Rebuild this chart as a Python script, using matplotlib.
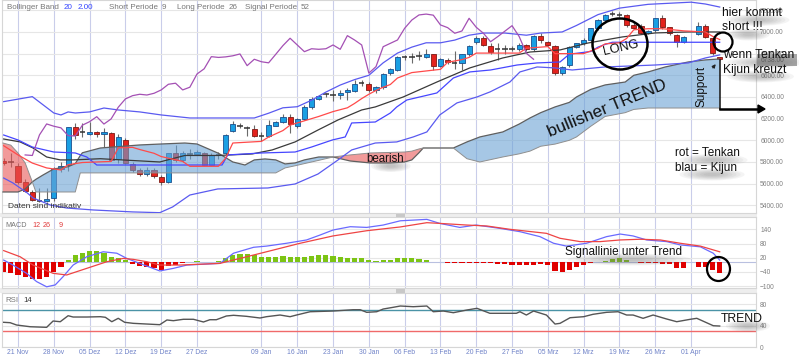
import numpy as np
import matplotlib
matplotlib.use("Agg")
import matplotlib.pyplot as plt
from matplotlib.patches import Ellipse, Rectangle, FancyArrow, FancyArrowPatch

plt.rcParams['font.family'] = ['Liberation Sans', 'DejaVu Sans']

# ---------------- data (trading-day index, prices) ----------------
candle_idx = list(range(-2, 94)) + [95, 96, 97, 98]
opens = [5810, 5795, 5766, 5618, 5526, 5450, 5440, 5465, 5735, 5775,
         6120, 6075, 6055, 6074, 6055, 6070, 5825, 6003, 5782, 5726,
         5689, 5726, 5665, 5618, 5880, 5815, 5880, 5875, 5880, 5772,
         5870, 5880, 6090, 6140, 6125, 6105, 6050, 6040, 6135, 6172,
         6212, 6135, 6197, 6305, 6382, 6420, 6420, 6420, 6450, 6458,
         6520, 6517, 6465, 6490, 6620, 6650, 6770, 6765, 6770, 6772,
         6794, 6689, 6740, 6725, 6711, 6794, 6905, 6942, 6874, 6840,
         6845, 6840, 6840, 6880, 6840, 6966, 6910, 6874, 6620, 6695,
         6864, 6895, 6926, 7034, 7110, 7160, 7165, 7157, 7065, 7058,
         6988, 7018, 7126, 7043, 6972, 6910, 6979, 7058, 6942, 6766]
highs = [5840, 5880, 5790, 5640, 5540, 5560, 5560, 5750, 5800, 6125,
         6160, 6163, 6170, 6090, 6110, 6080, 6060, 6020, 5800, 5740,
         5750, 5740, 5680, 5885, 5960, 5905, 5920, 5910, 5890, 5880,
         5890, 6060, 6180, 6160, 6130, 6140, 6080, 6190, 6180, 6240,
         6240, 6210, 6330, 6400, 6420, 6440, 6460, 6460, 6480, 6560,
         6560, 6540, 6500, 6620, 6670, 6780, 6790, 6810, 6820, 6840,
         6800, 6760, 6760, 6820, 6800, 6880, 6960, 6960, 6900, 6900,
         6880, 6870, 6900, 6890, 6970, 6990, 6920, 6880, 6690, 6870,
         6900, 6940, 7040, 7120, 7170, 7190, 7180, 7170, 7080, 7070,
         7020, 7130, 7160, 7050, 6980, 6965, 7090, 7070, 6950, 6770]
lows = [5770, 5750, 5600, 5520, 5440, 5430, 5430, 5440, 5710, 5720,
        6010, 6034, 6050, 6035, 5940, 5810, 5790, 5780, 5710, 5670,
        5670, 5650, 5590, 5610, 5800, 5800, 5830, 5860, 5760, 5760,
        5830, 5860, 6080, 6110, 6040, 6030, 5990, 6030, 6130, 6160,
        6070, 6110, 6190, 6290, 6370, 6400, 6360, 6380, 6370, 6450,
        6500, 6450, 6440, 6470, 6600, 6640, 6740, 6710, 6740, 6760,
        6650, 6680, 6700, 6660, 6650, 6780, 6890, 6870, 6800, 6740,
        6800, 6820, 6820, 6820, 6820, 6900, 6870, 6600, 6600, 6680,
        6850, 6880, 6920, 7020, 7100, 7150, 7140, 7050, 7030, 6980,
        6980, 7000, 7030, 6970, 6860, 6900, 6970, 6940, 6790, 6740]
closes = [5795, 5800, 5618, 5535, 5450, 5440, 5455, 5735, 5765, 6120,
          6045, 6080, 6074, 6055, 6075, 5818, 6028, 5788, 5726, 5689,
          5726, 5671, 5618, 5880, 5815, 5880, 5870, 5890, 5772, 5865,
          5860, 6050, 6151, 6130, 6115, 6043, 6040, 6140, 6172, 6218,
          6150, 6197, 6305, 6382, 6412, 6425, 6418, 6434, 6465, 6517,
          6527, 6465, 6490, 6612, 6660, 6772, 6765, 6770, 6780, 6797,
          6689, 6748, 6725, 6715, 6794, 6874, 6942, 6880, 6818, 6845,
          6840, 6845, 6880, 6840, 6966, 6926, 6880, 6620, 6680, 6864,
          6895, 6926, 7034, 7110, 7157, 7165, 7155, 7065, 7040, 6988,
          7009, 7126, 7043, 6988, 6910, 6957, 7058, 6957, 6803, 6748]

# Bollinger band (20, 2.00)
bbu_x = [-2, 2, 5, 6, 7, 8, 10, 12, 14, 17, 20, 24, 28, 33, 35, 37, 39, 41, 43, 45,
         47, 49, 51, 53, 55, 57, 59, 61, 63, 65, 68, 71, 73, 76, 78, 81, 84, 88, 94, 96, 98]
bbu_v = [6357, 6403, 6252, 6234, 6262, 6252, 6262, 6298, 6280, 6262, 6234, 6206, 6206,
         6206, 6250, 6300, 6310, 6370, 6445, 6510, 6560, 6600, 6715, 6805, 6860, 6900,
         6900, 6925, 6970, 6990, 6990, 6970, 6990, 7000, 7060, 7160, 7220, 7255, 7275,
         7258, 7230]
bbm_x = [-2, 0.3, 2.1, 4, 5.9, 7.7, 11.5, 15.6, 19.8, 23.3, 27.9, 32.7, 35.5, 38.7, 41.9,
         44.7, 48, 49.9, 53.8, 58.5, 63.1, 67.7, 71.5, 75.7, 79.6, 84.4, 89, 93.6, 98]
bbm_v = [6012, 5985, 5929, 5846, 5819, 5819, 5830, 5815, 5800, 5860, 5860, 5874, 5911,
         5985, 6095, 6188, 6280, 6308, 6400, 6538, 6668, 6760, 6815, 6834, 6898, 6954,
         6991, 7000, 7000]
bbl_x = [-2, -0.7, 1.3, 2.1, 4.5, 6.8, 10.5, 16, 19.8, 21.6, 24, 27.9, 34.9, 38.7, 41.9,
         44.7, 46.6, 48.5, 49.9, 52.9, 55.2, 57.1, 58.9, 61.3, 64.1, 65.9, 68.7, 70.1,
         72.5, 75, 77.4, 82, 89, 93.6, 96, 98]
bbl_v = [5652, 5606, 5514, 5468, 5403, 5375, 5357, 5339, 5332, 5385, 5495, 5551, 5560,
         5597, 5689, 5819, 5911, 5948, 5975, 5985, 6031, 6077, 6234, 6345, 6400, 6446,
         6538, 6631, 6677, 6668, 6649, 6677, 6695, 6714, 6760, 6788]

# Ichimoku (9, 26, 52)
tenkan_x = [-2, 0, 2, 4, 6, 7, 9, 11, 13, 14, 16, 17, 19, 20, 21, 23, 24, 28, 29, 30,
            34, 35, 37, 38, 40, 42, 44, 46, 47, 48, 49, 50, 51, 52, 53, 55, 57, 59, 60, 62,
            63, 64, 70, 71, 74, 75, 76, 79, 81, 82, 84, 85, 86, 88, 90, 93, 96, 97, 98]
tenkan_v = [5950, 5865, 5790, 5745, 5726, 5775, 5795, 5800, 5805, 5930,
            5935, 5915, 5880, 5850, 5835, 5805, 5760, 5760, 5835, 5975,
            5990, 6030, 6090, 6140, 6180, 6220, 6265, 6300, 6340, 6385,
            6425, 6460, 6490, 6515, 6575, 6625, 6640, 6655, 6720, 6745,
            6765, 6805, 6805, 6850, 6865, 6800, 6800, 6800, 6850, 6890,
            6900, 6940, 7020, 7030, 7030, 7010, 7000, 6960, 6930]
kijun_x = [-2, 0, 2, 5, 8, 9.6, 11, 28.5, 29.3, 34, 38.7, 41, 43.9, 45.7, 46.6, 49.9, 52,
           52.9, 54.3, 58.5, 60.8, 63.1, 66, 69.7, 72.5, 75.7, 77, 80, 81, 82, 83, 98]
kijun_v = [6049, 6003, 5938, 5892, 5883, 5846, 5772, 5772, 5865, 5883, 5892, 5938, 6003,
           6031, 6160, 6169, 6252, 6308, 6372, 6437, 6575, 6631, 6649, 6695, 6714, 6723,
           6795, 6820, 6860, 6885, 6905, 6905]
cloud_x = [-2.1, -1, 0, 1, 2, 2.5, 3.5, 5, 7, 8, 8.7, 9, 11.5, 17, 20, 23.3, 25, 28, 30,
           31.7, 33, 34.5, 36, 37.3, 38.7, 40, 42, 44, 46.4, 49.2, 52, 54, 55, 56, 56.6,
           60.8, 62.7, 64.5, 67.7, 70, 71.5, 73, 75, 77, 78, 80, 82, 84.8, 86, 88, 90.4,
           93.6, 96, 98]
senkou_a = [5523, 5523, 5523, 5551, 5616, 5640, 5680, 5736, 5756, 5785, 5860, 5885, 5929,
            5957, 5966, 5975, 5966, 5880, 5800, 5772, 5819, 5828, 5819, 5782, 5791, 5819,
            5846, 5846, 5809, 5791, 5791, 5800, 5819, 5885, 5929, 5929, 5985, 6031, 6077,
            6150, 6206, 6255, 6308, 6350, 6400, 6470, 6511, 6538, 6600, 6631, 6677, 6723,
            6742, 6751]
senkou_b = [5975, 5955, 5883, 5791, 5616, 5523, 5523, 5523, 5523, 5523, 5699, 5699, 5699,
            5699, 5699, 5699, 5699, 5699, 5699, 5699, 5699, 5699, 5699, 5745, 5765, 5785,
            5815, 5846, 5865, 5883, 5888, 5892, 5900, 5920, 5929, 5929, 5830, 5800, 5846,
            5875, 5900, 5945, 5965, 6000, 6031, 6130, 6220, 6255, 6285, 6298, 6298, 6298,
            6298, 6298]

# MACD (12, 26, 9)
hist_v = [-42, -46, -54, -61, -70, -68, -61, -42, -21, 10, 31, 42, 48, 48, 42, 24, 17, 10,
          -8, -14, -21, -25, -32, -15, -11, -4, 3, 7, 1, 3, 6, 17, 31, 37, 37, 31, 24, 24,
          24, 27, 21, 24, 24, 28, 32, 32, 28, 24, 20, 20, 17, 10, 4, 10, 10, 20, 20, 17, 13,
          10, 3, 0.5, -4, -4, -4, -4, -1, -1, -4, -7, -7, -11, -11, -11, -11, -8, -11, -35,
          -42, -32, -21, -11, -4, 1, 7, 13, 17, 10, 3, -4, -4, -4, -7, -7, -25, -25, -18,
          -21, -32, -46]
macd_x = [-2, -0.7, 1.2, 2.6, 4, 5.2, 6.3, 7.7, 9.6, 11.9, 13.8, 15.2, 17, 19.8, 21.7, 23.6,
          28.2, 30.1, 32.9, 34.7, 37.5, 40.3, 42.2, 44, 46.4, 48.7, 51, 53.4, 57.1, 58.9,
          61.7, 64, 67.3, 70.1, 72.9, 74.8, 76.6, 79.4, 82.2, 84.1, 85.9, 87.8, 90.6, 92.5,
          95.3, 97.1, 98]
macd_v = [10, -11, -46, -81, -103, -95, -60, -11, 24, 45, 39, 17, -4, -36, -25, -11, -4,
          39, 64, 69, 81, 95, 116, 137, 151, 148, 158, 176, 182, 165, 148, 158, 144, 130,
          109, 81, 69, 81, 109, 120, 112, 95, 88, 74, 66, 39, 10]
sig_x = [-2, 0.3, 2.1, 4.9, 6.8, 9.6, 12.4, 14.7, 16.1, 18, 19.8, 22.6, 28.2, 31, 34.7,
         39.4, 44, 48.7, 53.4, 57.1, 58.9, 62.7, 65.5, 68.7, 73.8, 75.7, 78.5, 81.3, 84.1,
         86.9, 89.7, 92.5, 95.3, 98]
sig_v = [50, 24, -11, -46, -53, -25, 3, 17, 13, 3, -11, -11, -4, 17, 45, 81, 112, 134, 150,
         168, 165, 158, 154, 140, 123, 102, 88, 88, 95, 98, 95, 81, 69, 45]

# RSI (14)
rsi_x = [-2, -1.1, -0.2, 1.7, 4, 4.9, 5.9, 7, 7.7, 9.6, 11.5, 12.2, 13.1, 14, 14.9, 16.1,
         18, 19.8, 20.8, 21.7, 23.1, 24.5, 25.9, 26.8, 27.7, 29.1, 30.1, 31.9, 33.8, 34.7,
         36.6, 38, 38.9, 40.8, 44, 46.8, 47.8, 48.7, 50.1, 51, 52.4, 53.4, 55.2, 57.1, 58,
         59.4, 60.8, 62.7, 64.1, 65.9, 68.3, 69.6, 70.1, 71, 72, 73.8, 75, 75.7, 77.1, 79,
         80.3, 82.2, 83.8, 85, 85.9, 87.3, 88.7, 90.6, 92, 93.9, 94.8, 97.1, 98]
rsi_v = [46.3, 45.6, 41.3, 38.1, 37.0, 48.7, 47.4, 58.5, 56.1, 56.1, 56.7, 55.6, 47.4, 53.7,
         46.3, 44.4, 43.1, 41.9, 50.6, 49.3, 51.9, 51.9, 46.9, 51.1, 51.1, 58.0, 59.3, 57.4,
         54.3, 56.7, 59.8, 56.7, 59.8, 65.9, 67.2, 69.6, 69.6, 64.8, 65.9, 70.9, 74.1, 76.5,
         75.2, 76.5, 65.9, 67.2, 64.1, 69.1, 72.2, 63.0, 63.0, 63.0, 65.9, 59.8, 67.2, 59.8,
         43.1, 44.4, 54.8, 56.7, 61.1, 64.8, 65.9, 59.8, 59.8, 53.7, 59.8, 52.4, 47.4, 51.9,
         53.7, 40.0, 39.4]

tick_pos = [0, 5, 10, 15, 20, 25, 34, 39, 44, 49, 54, 59, 64, 69, 74, 79, 84, 89, 94]
tick_lab = ['21 Nov', '28 Nov', '05 Dez', '12 Dez', '19 Dez', '27 Dez', '09 Jan', '16 Jan',
            '23 Jan', '30 Jan', '06 Feb', '13 Feb', '20 Feb', '27 Feb', '05 Mrz', '12 Mrz',
            '19 Mrz', '26 Mrz', '01 Apr']
price_ticks = [5400, 5600, 5800, 6000, 6200, 6400, 6600, 6800, 7000, 7200]
macd_ticks = [140, 80, 20, -40, -100]
rsi_ticks = [0, 40, 80]

# ---------------- figure layout ----------------
W, H = 799, 361
fig = plt.figure(figsize=(W / 100, H / 100), dpi=100)
fig.patch.set_facecolor('white')


def fx(x):
    return x / W


def fy(y):
    return 1 - y / H


def axes_px(x0, y0, x1, y1):
    return fig.add_axes([x0 / W, 1 - y1 / H, (x1 - x0) / W, (y1 - y0) / H])


# separators between panels
for (y0, y1) in [(213, 217), (288, 293)]:
    fig.add_artist(Rectangle((fx(0), fy(y1)), fx(757), (y1 - y0) / H,
                             transform=fig.transFigure, color='#eeeeee', lw=0, zorder=0))
    fig.add_artist(Rectangle((fx(396), fy(y1 - 0.5)), fx(9), (y1 - y0 - 1) / H,
                             transform=fig.transFigure, color='#c8c8c8', lw=0, zorder=0))

ax = axes_px(2, 0, 756, 213)
axm = axes_px(2, 217, 756, 288)
axr = axes_px(2, 293, 756, 347.3)

XL, XR = -2.235, 103.07
grid_v = '#c9cdea'
for a in (ax, axm, axr):
    a.set_xlim(XL, XR)
    a.set_xticks(tick_pos)
    a.grid(axis='x', color=grid_v, lw=0.8, zorder=0)
    a.grid(axis='y', color='#e6e6e6', lw=0.8, zorder=0)
    a.set_axisbelow(True)
    for s in a.spines.values():
        s.set_color('#d6d6d6')
        s.set_linewidth(0.8)
    a.yaxis.tick_right()
    a.tick_params(axis='y', length=0, pad=3, labelsize=4.8, labelcolor='#808080')
    a.tick_params(axis='x', length=0)
ax.tick_params(axis='x', labelbottom=False)
axm.tick_params(axis='x', labelbottom=False)
axr.set_xticklabels(tick_lab)
axr.tick_params(axis='x', labelsize=4.9, labelcolor='#6f82c8', pad=1.5)

# ---------------- main panel ----------------
ax.set_ylim(5329, 7295)
ax.set_yticks(price_ticks)
ax.set_yticklabels(['%.2f' % v for v in price_ticks])

cx = np.array(candle_idx, float)
O = np.array(opens, float)
Hh = np.array(highs, float)
L = np.array(lows, float)
C = np.array(closes, float)
up = C >= O
doji = np.abs(C - O) < 12
ax.vlines(cx, L, Hh, color='#6a6a6a', lw=0.8, zorder=2)
nd = ~doji
body_col = np.where(up, '#1a9fe3', '#e3221d')
edge_col = np.where(up, '#1b4f8c', '#7d1a14')
ax.bar(cx[nd], np.abs(C - O)[nd], bottom=np.minimum(O, C)[nd], width=0.72,
       color=body_col[nd], edgecolor=edge_col[nd], linewidth=0.6, zorder=2.5)
ax.hlines(C[doji], cx[doji] - 0.38, cx[doji] + 0.38, color='#333333', lw=1.1, zorder=2.5)

# cloud
ca = np.array(senkou_a, float)
cb = np.array(senkou_b, float)
ax.fill_between(cloud_x, ca, cb, where=ca >= cb, interpolate=True,
                color='#6ba3d5', alpha=0.6, lw=0, zorder=3)
ax.fill_between(cloud_x, ca, cb, where=ca < cb, interpolate=True,
                color='#e95757', alpha=0.6, lw=0, zorder=3)
ax.plot(cloud_x, ca, color='#5f5f5f', lw=0.9, zorder=3.2)
ax.plot(cloud_x, cb, color='#8f8f8f', lw=0.7, zorder=3.2)

# indicator lines
ax.plot(bbu_x, bbu_v, color='#5a5af0', lw=0.9, zorder=4)
ax.plot(bbl_x, bbl_v, color='#5a5af0', lw=0.9, zorder=4)
ax.plot(bbm_x, bbm_v, color='#3a3a3a', lw=0.9, zorder=4)
ax.plot(kijun_x, kijun_v, color='#4646ff', lw=0.9, zorder=4)
ax.plot(tenkan_x, tenkan_v, color='#ff4a4a', lw=0.9, zorder=4)
mask = cx >= 27
ax.plot(cx[mask] - 26, C[mask], color='#a450b4', lw=0.9, zorder=4)

# ---------------- MACD panel ----------------
axm.set_ylim(-108, 192)
axm.set_yticks(macd_ticks)
axm.axhline(0, color='#b9c0e0', lw=0.8, zorder=1)
hv = np.array(hist_v, float)
axm.bar(cx, hv, width=0.72, color=np.where(hv >= 0, '#7cc414', '#e00000'), zorder=2)
axm.plot(macd_x, macd_v, color='#6a6aff', lw=0.9, zorder=3)
axm.plot(sig_x, sig_v, color='#ee4444', lw=0.9, zorder=3)

# ---------------- RSI panel ----------------
axr.set_ylim(0, 100.6)
axr.set_yticks(rsi_ticks)
axr.axhline(70, color='#4a93a6', lw=1.0, zorder=1)
axr.axhline(30, color='#f06a6a', lw=1.0, zorder=1)
axr.plot(rsi_x, rsi_v, color='#555555', lw=1.0, zorder=3)

# ---------------- labels ----------------
def ftext(x, y, s, size, color='#777777', **kw):
    return fig.text(fx(x), fy(y), s, fontsize=size, color=color, va='center', ha='left', **kw)


ftext(7, 7.5, 'Bollinger Band', 5.8)
ftext(64, 7.5, '20', 5.8, '#3344ff')
ftext(77.5, 7.5, '2.00', 5.8, '#3344ff')
ftext(109, 7.5, 'Short Periode', 5.8)
ftext(162, 7.5, '9', 5.8)
ftext(177, 7.5, 'Long Periode', 5.8)
ftext(229, 7.5, '26', 5.8)
ftext(245, 7.5, 'Signal Periode', 5.8)
ftext(301, 7.5, '52', 5.8)
ftext(8, 207, 'Daten sind indikativ', 6, '#333333')
ftext(5, 225.5, 'MACD', 5.2)
ftext(32, 225.5, '12', 5.2, '#e03a3a')
ftext(43, 225.5, '26', 5.2, '#e03a3a')
ftext(59, 225.5, '9', 5.2, '#e03a3a')
ftext(5, 300, 'RSI', 5.6)
ftext(23, 300, '14', 5.6, '#333333')

# price marker box on right axis
fig.add_artist(Rectangle((fx(757), fy(66)), 40 / W, 12 / H, transform=fig.transFigure,
                         facecolor='#a8a8a8', edgecolor='none', zorder=5))
ftext(761, 60, '6738.00', 4.8, '#5a5a5a', zorder=6)

# ---------------- annotations ----------------
notes = []


def note(x, y, s, size, rot=0, ha='left', shadow=True):
    t = fig.text(fx(x), fy(y), s, fontsize=size, color='#111111', rotation=rot,
                 ha=ha, va='center', zorder=10, rotation_mode='anchor')
    if shadow:
        notes.append(t)
    return t


note(722, 13, 'hier kommt', 8.7)
note(722, 27.5, 'short !!!', 8.7)
note(723, 55.5, 'wenn Tenkan', 8.7)
note(723, 69.5, 'Kijun kreuzt', 8.7)
note(607, 108, 'bullisher TREND', 12.3, rot=22.5, ha='center', shadow=False)
note(702, 86, 'Support', 8.5, rot=90, ha='center', shadow=False)
note(366, 159, 'bearish', 8.3)
note(675, 153, 'rot = Tenkan', 8.5)
note(675, 167.5, 'blau = Kijun', 8.5)
note(565, 252.5, 'Signallinie unter Trend', 8.5)
note(721, 319, 'TREND', 8.8)
note(621, 48, 'LONG', 9.3, rot=13, ha='center', shadow=False)

# soft drop shadows under the hand-written notes
fig.canvas.draw()
rend = fig.canvas.get_renderer()
for t in notes:
    bb = t.get_window_extent(rend)
    scx = (bb.x0 + bb.x1) / 2 + 6
    scy = (bb.y0 + bb.y1) / 2 - 7
    for k in range(7):
        s = 1.05 - k * 0.13
        fig.add_artist(Ellipse((scx / W, scy / H), bb.width * s / W, bb.height * 0.95 * s / H,
                               transform=fig.transFigure, facecolor='#6e6e6e',
                               edgecolor='none', alpha=0.07, zorder=9))

for (cxp, cyp, w, h, lw) in [(620, 44, 55, 51, 1.8), (723, 42, 19, 19, 1.6),
                             (718.5, 269, 23, 24, 1.6)]:
    fig.add_artist(Ellipse((fx(cxp), fy(cyp)), w / W, h / H, transform=fig.transFigure,
                           fill=False, edgecolor='#000000', lw=lw, zorder=11))

# arrow from the last candle down and to the right
fig.add_artist(plt.Line2D([fx(720), fx(720)], [fy(60), fy(109)], transform=fig.transFigure,
                          color='#111111', lw=1.1, zorder=11))
fig.add_artist(plt.Line2D([fx(720), fx(760)], [fy(109), fy(109)], transform=fig.transFigure,
                          color='#000000', lw=1.8, zorder=11))
fig.add_artist(FancyArrow(fx(758), fy(109), fx(7), 0, width=0.0, head_width=8 / H,
                          head_length=7 / W, transform=fig.transFigure, color='#000000',
                          length_includes_head=True, zorder=11))
fig.add_artist(FancyArrowPatch((fx(711), fy(70)), (fx(717.5), fy(62)),
                               transform=fig.transFigure, arrowstyle='-|>', mutation_scale=5,
                               color='#222222', lw=0.8, zorder=11))

fig.savefig('out.png', dpi=100, facecolor='white')
